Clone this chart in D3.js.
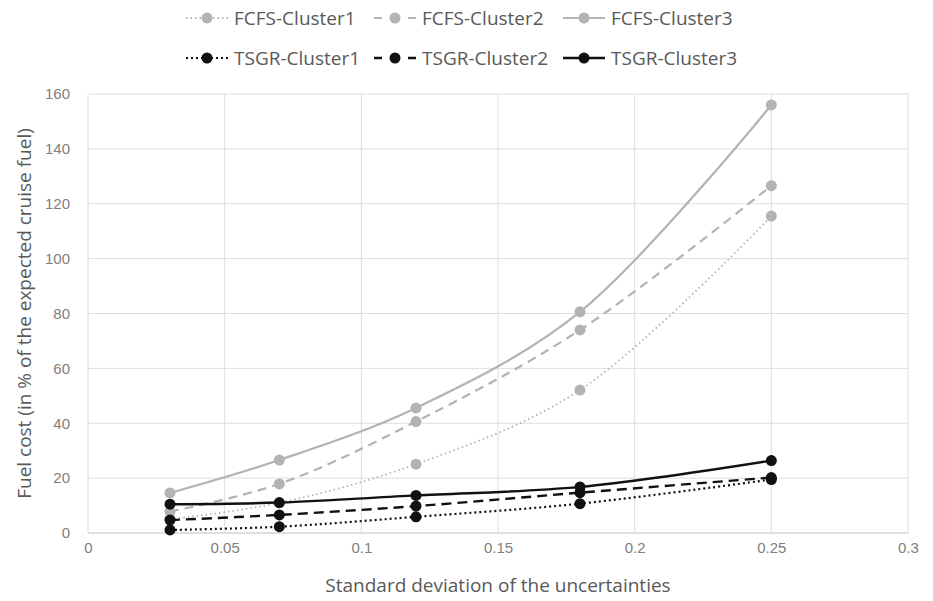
<!DOCTYPE html>
<html lang="en">
<head>
<meta charset="UTF-8">
<title>Fuel cost vs standard deviation</title>
<script src="https://d3js.org/d3.v7.min.js"></script>
<style>
    body { margin: 0; background: #fff; }
    svg { font-family: "Open Sans", sans-serif; }
    .tick text { fill: #808080; font-size: 15px; }
    .axis-title { fill: #595959; font-size: 19px; }
    .legend text { fill: #595959; font-size: 19px; }
</style>
</head>
<body>
<svg id="chart" width="933" height="601"></svg>
<script>
// x values (standard deviation)
var xValues = [0.03, 0.07, 0.12, 0.18, 0.25];

// series values
var fcfs1 = [5, 11, 25.1, 52.1, 115.5];
var fcfs2 = [7.8, 17.9, 40.6, 74, 126.6];
var fcfs3 = [14.6, 26.6, 45.6, 80.6, 156];
var tsgr1 = [1.1, 2.3, 5.9, 10.7, 19.5];
var tsgr2 = [4.7, 6.6, 9.8, 14.7, 20.2];
var tsgr3 = [10.5, 11.1, 13.7, 16.8, 26.4];

var seriesNames = ["FCFS-Cluster1", "FCFS-Cluster2", "FCFS-Cluster3",
                   "TSGR-Cluster1", "TSGR-Cluster2", "TSGR-Cluster3"];

var xTicks = [0, 0.05, 0.1, 0.15, 0.2, 0.25, 0.3];
var yTicks = [0, 20, 40, 60, 80, 100, 120, 140, 160];

var grey = "#b3b3b3", black = "#111";

var series = [
    { name: seriesNames[0], values: fcfs1, color: grey, dash: "1.5,3", legDash: "1.5,3", width: 1.8 },
    { name: seriesNames[1], values: fcfs2, color: grey, dash: "9,6", legDash: "8,26", width: 2.2 },
    { name: seriesNames[2], values: fcfs3, color: grey, dash: null, legDash: null, width: 2.2 },
    { name: seriesNames[3], values: tsgr1, color: black, dash: "2,3", legDash: "2,3", width: 2.2 },
    { name: seriesNames[4], values: tsgr2, color: black, dash: "10,6", legDash: "8,26", width: 2.4 },
    { name: seriesNames[5], values: tsgr3, color: black, dash: null, legDash: null, width: 2.4 }
];

var margin = { top: 94, left: 88 },
    width = 908 - margin.left,
    height = 533 - margin.top;

var svg = d3.select("#chart")
    .append("g")
    .attr("transform", "translate(" + margin.left + "," + margin.top + ")");

var x = d3.scaleLinear().domain([0, 0.3]).range([0, width]);
var y = d3.scaleLinear().domain([0, 160]).range([height, 0]);

// gridlines
svg.append("g")
    .selectAll("line")
    .data(yTicks)
    .enter().append("line")
    .attr("x1", 0).attr("x2", width)
    .attr("y1", function (d) { return y(d); })
    .attr("y2", function (d) { return y(d); })
    .attr("stroke", function (d) { return d === 0 ? "#bfbfbf" : "#dedede"; })
    .attr("stroke-width", 1);

svg.append("g")
    .selectAll("line")
    .data(xTicks)
    .enter().append("line")
    .attr("y1", 0).attr("y2", height)
    .attr("x1", function (d) { return x(d); })
    .attr("x2", function (d) { return x(d); })
    .attr("stroke", "#dedede")
    .attr("stroke-width", 1);

// axes (labels only)
var xAxis = svg.append("g")
    .attr("transform", "translate(0," + height + ")")
    .call(d3.axisBottom(x).tickValues(xTicks).tickSize(0).tickPadding(9)
        .tickFormat(function (d) { return String(+d.toFixed(2)); }));
xAxis.select(".domain").remove();

var yAxis = svg.append("g")
    .call(d3.axisLeft(y).tickValues(yTicks).tickSize(0).tickPadding(18));
yAxis.select(".domain").remove();

// lines
var line = d3.line()
    .x(function (d, i) { return x(xValues[i]); })
    .y(function (d) { return y(d); })
    .curve(d3.curveCatmullRom.alpha(0.5));

series.forEach(function (s) {
    svg.append("path")
        .datum(s.values)
        .attr("fill", "none")
        .attr("stroke", s.color)
        .attr("stroke-width", s.width)
        .attr("stroke-dasharray", s.dash)
        .attr("d", line);
    svg.append("g")
        .selectAll("circle")
        .data(s.values)
        .enter().append("circle")
        .attr("cx", function (d, i) { return x(xValues[i]); })
        .attr("cy", function (d) { return y(d); })
        .attr("r", 5.5)
        .attr("fill", s.color);
});

// axis titles
svg.append("text")
    .attr("class", "axis-title")
    .attr("x", width / 2)
    .attr("y", height + 59)
    .attr("text-anchor", "middle")
    .text("Standard deviation of the uncertainties");

svg.append("text")
    .attr("class", "axis-title")
    .attr("transform", "rotate(-90)")
    .attr("x", -height / 2)
    .attr("y", -57)
    .attr("text-anchor", "middle")
    .text("Fuel cost (in % of the expected cruise fuel)");

// legend
var legend = d3.select("#chart").append("g").attr("class", "legend");
var legX = [186, 374, 563];
var legY = [18, 58];
series.forEach(function (s, i) {
    var gx = legX[i % 3], gy = legY[Math.floor(i / 3)];
    var item = legend.append("g").attr("transform", "translate(" + gx + "," + gy + ")");
    item.append("line")
        .attr("x1", 0).attr("x2", 42)
        .attr("y1", 0).attr("y2", 0)
        .attr("stroke", s.color)
        .attr("stroke-width", s.width)
        .attr("stroke-dasharray", s.legDash);
    item.append("circle")
        .attr("cx", 21).attr("cy", 0).attr("r", 5.5)
        .attr("fill", s.color);
    item.append("text")
        .attr("x", 48).attr("y", 6.5)
        .text(s.name);
});
</script>
</body>
</html>
